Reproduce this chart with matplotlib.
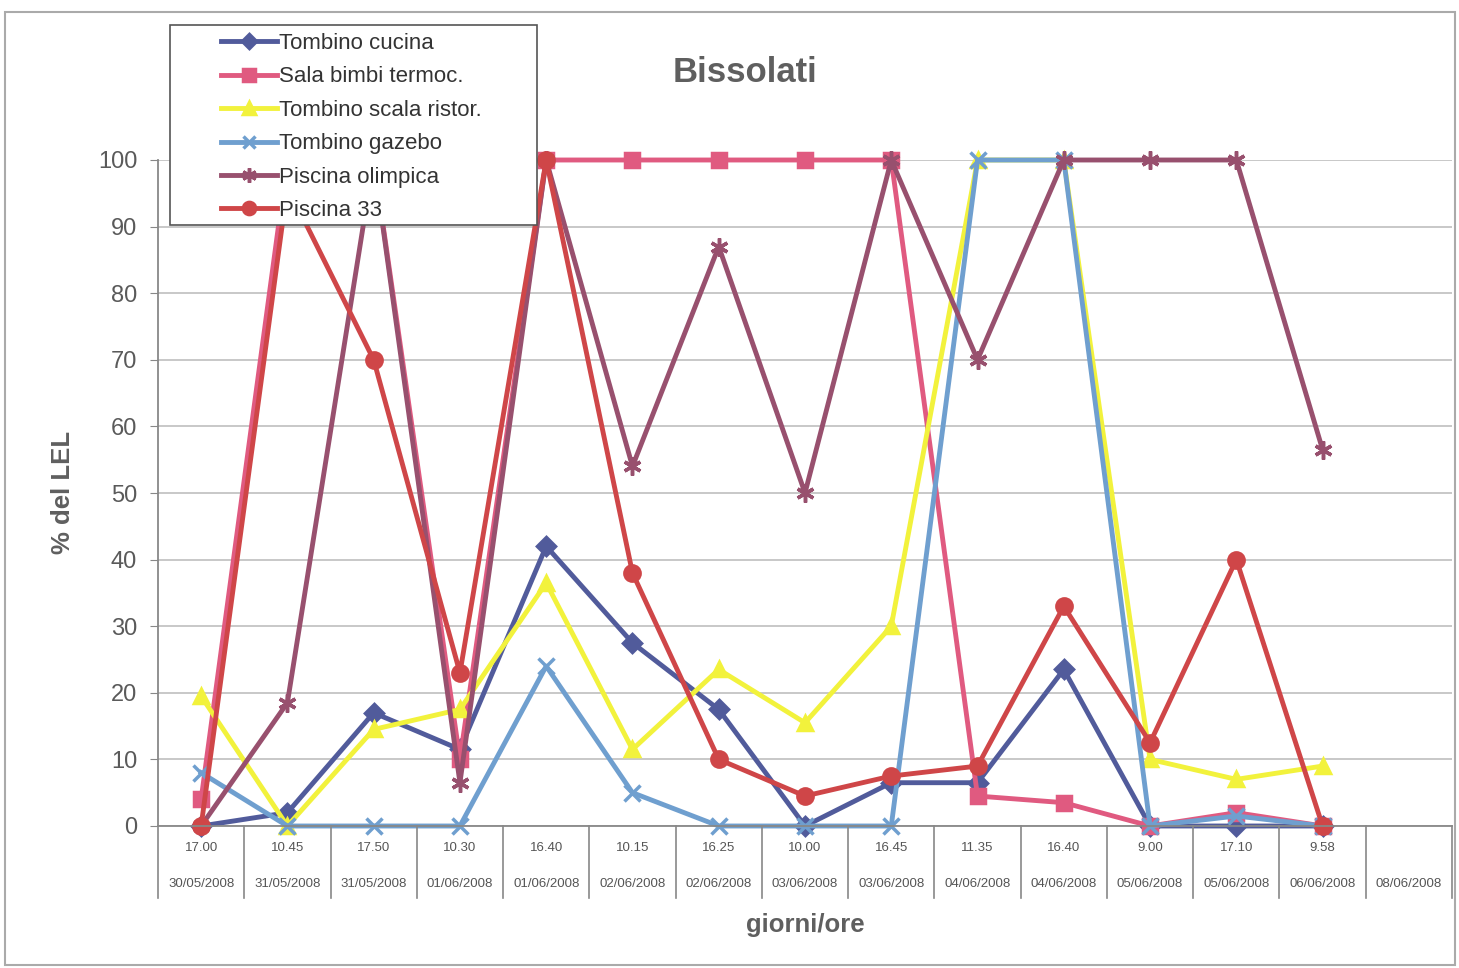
import matplotlib
matplotlib.use("Agg")
import matplotlib.pyplot as plt
from matplotlib.patches import Rectangle
from matplotlib.transforms import blended_transform_factory

plt.rcParams['font.family'] = ['Liberation Sans', 'DejaVu Sans']

# dati
orari = ['17.00', '10.45', '17.50', '10.30', '16.40', '10.15', '16.25',
         '10.00', '16.45', '11.35', '16.40', '9.00', '17.10', '9.58', '']
date = ['30/05/2008', '31/05/2008', '31/05/2008', '01/06/2008', '01/06/2008',
        '02/06/2008', '02/06/2008', '03/06/2008', '03/06/2008', '04/06/2008',
        '04/06/2008', '05/06/2008', '05/06/2008', '06/06/2008', '08/06/2008']

tombino_cucina = [0, 2, 17, 11.5, 42, 27.5, 17.5, 0, 6.5, 6.5, 23.5, 0, 0, 0]
sala_bimbi = [4, 100, 100, 10, 100, 100, 100, 100, 100, 4.5, 3.5, 0, 2, 0]
tombino_scala = [19.5, 0, 14.5, 17.5, 36.5, 11.5, 23.5, 15.5, 30, 100, 100, 10, 7, 9]
tombino_gazebo = [8, 0, 0, 0, 24, 5, 0, 0, 0, 100, 100, 0, 1.5, 0]
piscina_olimpica = [0, 18.5, 100, 6.5, 100, 54, 87, 50, 100, 70, 100, 100, 100, 56.5]
piscina_33 = [0, 96, 70, 23, 100, 38, 10, 4.5, 7.5, 9, 33, 12.5, 40, 0]

serie = [
    ('Tombino cucina', tombino_cucina, '#515b9b', 'D', 9),
    ('Sala bimbi termoc.', sala_bimbi, '#e05a80', 's', 10),
    ('Tombino scala ristor.', tombino_scala, '#f2f23c', '^', 10),
    ('Tombino gazebo', tombino_gazebo, '#6f9fcf', 'x', 11),
    ('Piscina olimpica', piscina_olimpica, '#98506e', (6, 2, 0), 13),
    ('Piscina 33', piscina_33, '#cf4648', 'o', 11),
]

W, H = 1459, 968
fig = plt.figure(figsize=(W / 100, H / 100), dpi=100)
ax = fig.add_axes([158 / W, 1 - 826 / H, (1452 - 158) / W, (826 - 160) / H])

x = list(range(len(tombino_cucina)))
handles = []
for nome, valori, colore, marker, ms in serie:
    ln, = ax.plot(x, valori, color=colore, lw=3.5, marker=marker, ms=ms,
                  mew=2.5, label=nome, clip_on=False)
    handles.append(ln)

ax.set_xlim(-0.5, len(date) - 0.5)
ax.set_ylim(0, 100)
ax.set_yticks(range(0, 101, 10))
ax.set_xticks([])
ax.yaxis.grid(True, color='#c4c4c4', lw=1.3)
ax.set_axisbelow(True)
ax.tick_params(axis='y', length=6, color='#888888', labelsize=17,
               labelcolor='#5a5a5a', pad=9)
for s in ['top', 'right']:
    ax.spines[s].set_visible(False)
for s in ['left', 'bottom']:
    ax.spines[s].set_color('#888888')
    ax.spines[s].set_linewidth(1.3)

# etichette a due livelli sull'asse x
tr = blended_transform_factory(ax.transData, ax.transAxes)
for i in range(len(date) + 1):
    ax.plot([i - 0.5, i - 0.5], [0, -0.108], transform=tr, color='#888888',
            lw=1.2, clip_on=False)
for i, (o, d) in enumerate(zip(orari, date)):
    ax.text(i, -0.033, o, transform=tr, ha='center', va='center',
            fontsize=9.5, color='#555555')
    ax.text(i, -0.087, d, transform=tr, ha='center', va='center',
            fontsize=9.5, color='#555555')

fig.text(745 / W, 1 - 72 / H, 'Bissolati', ha='center', va='center',
         fontsize=25, weight='bold', color='#5f5f5f')
fig.text(63 / W, 1 - 492 / H, '% del LEL', rotation=90, ha='center',
         va='center', fontsize=18.5, weight='bold', color='#5f5f5f')
fig.text(805 / W, 1 - 925 / H, 'giorni/ore', ha='center', va='center',
         fontsize=18.5, weight='bold', color='#5f5f5f')

# riquadro legenda
box = Rectangle((170 / W, 1 - 225 / H), (537 - 170) / W, 200 / H,
                transform=fig.transFigure, facecolor='white',
                edgecolor='#555555', lw=1.2, zorder=5)
fig.add_artist(box)
leg = fig.legend(handles, [h.get_label() for h in handles], loc='upper left',
                 bbox_to_anchor=(221 / W, 1 - 33 / H), frameon=False,
                 fontsize=16, handlelength=2.5, handletextpad=0.1,
                 labelspacing=0.56, borderpad=0, borderaxespad=0,
                 markerscale=0.8)
leg.set_zorder(6)
for t in leg.get_texts():
    t.set_color('#333333')

# bordo esterno
fig.add_artist(Rectangle((5 / W, 3 / H), 1450 / W, 953 / H,
                         transform=fig.transFigure, fill=False,
                         edgecolor='#aaaaaa', lw=1.5, zorder=0))

fig.savefig('out.png', dpi=100)
